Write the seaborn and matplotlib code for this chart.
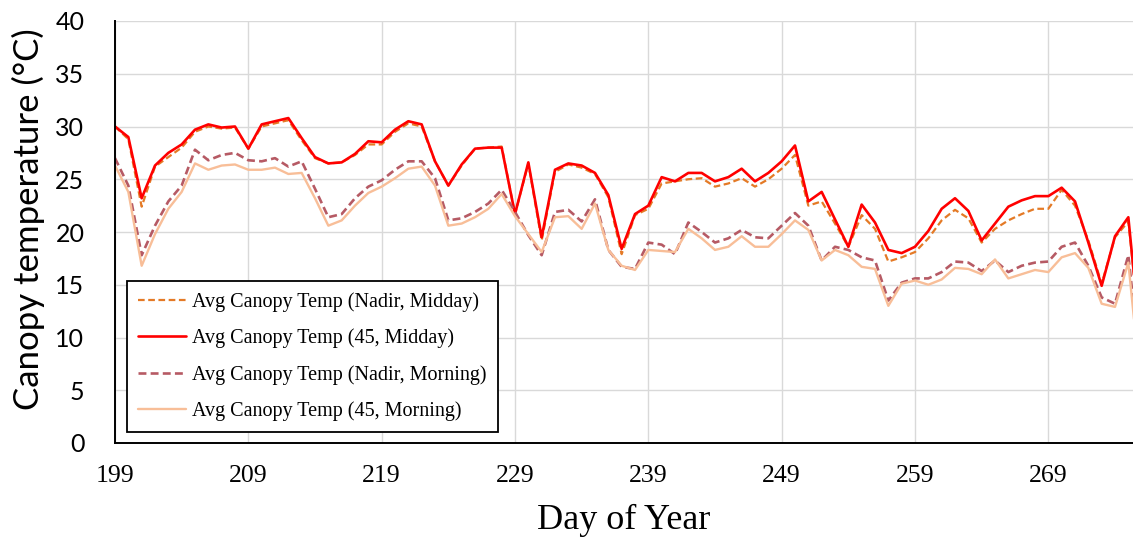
import pandas as pd
import matplotlib.pyplot as plt
import seaborn as sns

# day of year 199..276
days = list(range(199, 277))

nadir_midday = [30.0, 28.8, 22.4, 26.2, 27.1, 28.0, 29.5, 30.0, 29.8, 29.9,
                27.9, 30.0, 30.3, 30.6, 28.7, 27.0, 26.5, 26.6, 27.3, 28.3,
                28.3, 29.5, 30.3, 30.0, 26.7, 24.4, 26.3, 27.9, 28.0, 28.1,
                21.7, 26.5, 19.2, 25.7, 26.4, 26.1, 25.5, 23.3, 17.9, 21.6,
                22.2, 24.6, 24.8, 25.0, 25.1, 24.3, 24.6, 25.1, 24.3, 25.0,
                26.0, 27.3, 22.5, 22.9, 20.8, 18.6, 21.6, 20.3, 17.2, 17.6,
                18.1, 19.4, 21.1, 22.1, 21.3, 19.0, 20.3, 21.1, 21.7, 22.2,
                22.2, 24.0, 22.5, 19.2, 15.1, 19.5, 21.0, 9.0]

deg45_midday = [30.0, 29.0, 23.2, 26.3, 27.5, 28.3, 29.7, 30.2, 29.9, 30.0,
                27.9, 30.2, 30.5, 30.8, 28.9, 27.1, 26.5, 26.6, 27.4, 28.6,
                28.5, 29.7, 30.5, 30.2, 26.7, 24.4, 26.4, 27.9, 28.0, 28.0,
                21.7, 26.6, 19.5, 25.9, 26.5, 26.3, 25.6, 23.5, 18.4, 21.7,
                22.5, 25.2, 24.8, 25.6, 25.6, 24.8, 25.2, 26.0, 24.8, 25.6,
                26.7, 28.2, 22.9, 23.8, 21.2, 18.6, 22.6, 20.9, 18.3, 18.0,
                18.6, 20.1, 22.2, 23.2, 22.0, 19.2, 20.8, 22.4, 23.0, 23.4,
                23.4, 24.2, 22.9, 19.0, 14.9, 19.6, 21.4, 8.5]

nadir_morning = [27.0, 24.4, 17.8, 20.6, 22.9, 24.4, 27.8, 26.8, 27.3, 27.5,
                 26.8, 26.7, 27.0, 26.2, 26.7, 24.1, 21.4, 21.7, 23.2, 24.3,
                 24.9, 25.9, 26.7, 26.7, 25.1, 21.1, 21.3, 21.9, 22.7, 24.0,
                 21.9, 19.7, 17.8, 21.9, 22.1, 21.0, 23.1, 18.3, 16.7, 16.5,
                 19.0, 18.8, 17.9, 20.9, 20.0, 19.0, 19.4, 20.2, 19.5, 19.4,
                 20.6, 21.8, 20.6, 17.3, 18.6, 18.3, 17.6, 17.3, 13.5, 15.2,
                 15.6, 15.6, 16.2, 17.2, 17.1, 16.3, 17.3, 16.2, 16.8, 17.1,
                 17.2, 18.6, 19.0, 16.8, 13.8, 13.2, 17.8, 6.0]

deg45_morning = [26.3, 23.8, 16.8, 19.8, 22.2, 23.8, 26.5, 25.9, 26.3, 26.4,
                 25.9, 25.9, 26.1, 25.5, 25.6, 23.2, 20.6, 21.1, 22.5, 23.7,
                 24.3, 25.1, 26.0, 26.2, 24.4, 20.6, 20.8, 21.4, 22.2, 23.6,
                 21.5, 19.8, 18.1, 21.4, 21.5, 20.3, 22.7, 18.3, 16.8, 16.4,
                 18.3, 18.2, 18.1, 20.3, 19.4, 18.3, 18.6, 19.6, 18.6, 18.6,
                 19.8, 21.1, 20.2, 17.3, 18.3, 17.8, 16.7, 16.5, 13.0, 15.1,
                 15.4, 15.0, 15.5, 16.6, 16.5, 16.0, 17.4, 15.6, 16.0, 16.4,
                 16.2, 17.6, 18.0, 16.6, 13.2, 12.9, 17.1, 4.5]

labels = ["Avg Canopy Temp (Nadir, Midday)", "Avg Canopy Temp (45, Midday)",
          "Avg Canopy Temp (Nadir, Morning)", "Avg Canopy Temp (45, Morning)"]
xticks = [199, 209, 219, 229, 239, 249, 259, 269]

df = pd.DataFrame({"day": days, labels[0]: nadir_midday, labels[1]: deg45_midday,
                   labels[2]: nadir_morning, labels[3]: deg45_morning})

sns.set_style("white")
plt.rcParams["text.color"] = "black"
plt.rcParams["xtick.color"] = "black"
plt.rcParams["ytick.color"] = "black"
plt.rcParams["axes.labelcolor"] = "black"

fig = plt.figure(figsize=(11.33, 5.38), dpi=100)
ax = fig.add_axes([115 / 1133, 1 - 443 / 538, 1018 / 1133, 422 / 538])

styles = [("#E47A26", (0, (3, 1.6)), 1.6),
          ("#FF0000", "-", 1.9),
          ("#B65A64", (0, (3, 1.6)), 1.9),
          ("#F8BE98", "-", 1.7)]
for lab, (col, ls, lw) in zip(labels, styles):
    sns.lineplot(data=df, x="day", y=lab, ax=ax, color=col, linestyle=ls,
                 linewidth=lw, label=lab)

ax.set_xlim(199, 275.35)
ax.set_ylim(0, 40)
ax.set_xticks(xticks)
ax.set_yticks(range(0, 41, 5))
ax.grid(True, color="#D9D9D9", linewidth=1.0)
ax.set_axisbelow(True)

for s in ["top", "right"]:
    ax.spines[s].set_visible(False)
for s in ["left", "bottom"]:
    ax.spines[s].set_color("black")
    ax.spines[s].set_linewidth(1.4)

ax.tick_params(axis="both", direction="out", length=6, width=1.2, color="black",
               labelcolor="black")
ax.tick_params(axis="x", pad=10)
ax.tick_params(axis="y", pad=16)
for t in ax.get_xticklabels():
    t.set_fontfamily("Liberation Serif")
    t.set_fontsize(18.5)
for t in ax.get_yticklabels():
    t.set_fontfamily("Lato")
    t.set_fontsize(18)

ax.set_xlabel("Day of Year", fontfamily="Liberation Serif", fontsize=26, labelpad=12)
ax.set_ylabel("Canopy temperature (°C)", fontfamily="Lato", fontsize=25)
ax.yaxis.set_label_coords(-0.069, 0.53)

leg = ax.legend(loc="lower left", bbox_to_anchor=(0.0118, 0.026), borderaxespad=0,
                prop={"family": "Liberation Serif", "size": 14.5}, frameon=True,
                fancybox=False, framealpha=1, edgecolor="black", handlelength=2.4,
                handletextpad=0.3, labelspacing=0.82, borderpad=0.55)
leg.get_frame().set_linewidth(1.3)
for t in leg.get_texts():
    t.set_color("black")

fig.savefig("out.png", dpi=100)
